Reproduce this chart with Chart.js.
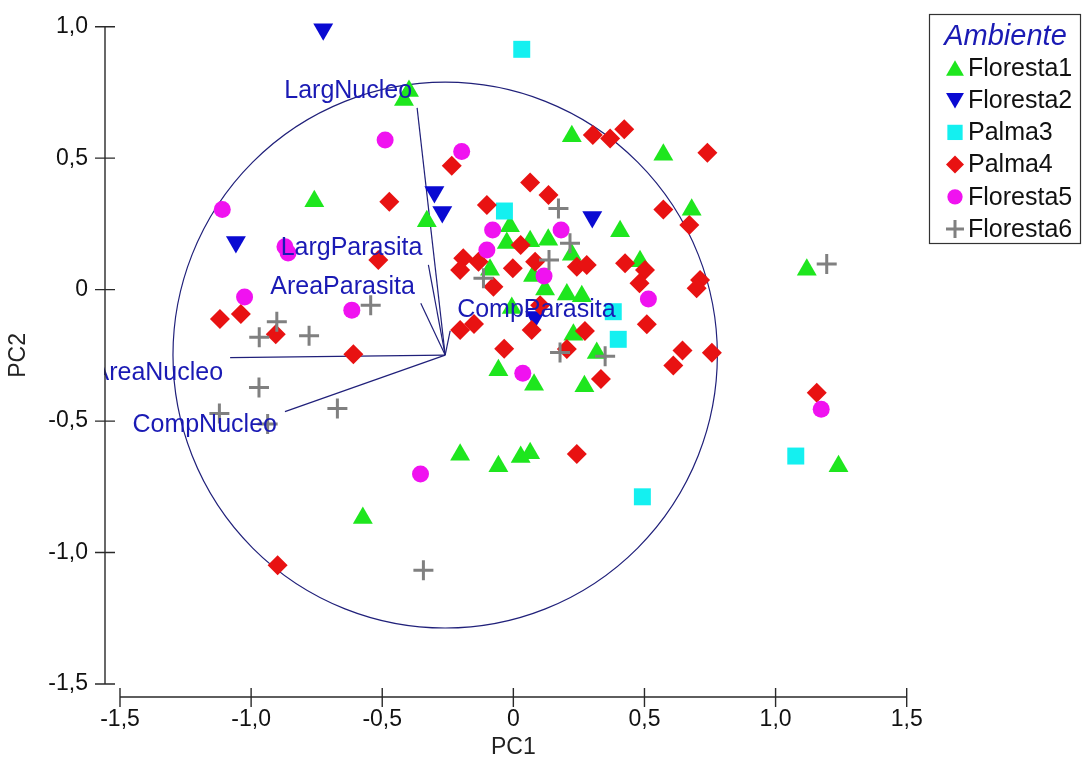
<!DOCTYPE html>
<html><head><meta charset="utf-8">
<script src="https://cdn.jsdelivr.net/npm/chart.js@4.4.1/dist/chart.umd.min.js"></script>
<style>html,body{margin:0;padding:0;background:#fff;}#wrap{width:1082px;height:763px;}</style>
</head><body><div id="wrap"><canvas id="c" width="1082" height="763"></canvas></div>
<script>
// ---------- DATA ----------
const seriesNames = ['Floresta1','Floresta2','Palma3','Palma4','Floresta5','Floresta6'];
const legendTitle = 'Ambiente';

const floresta1X = [-0.398,-0.417,-0.759,-0.330,0.223,0.572,0.407,0.680,-0.013,-0.025,0.064,0.133,0.223,0.075,-0.089,0.483,0.204,0.261,0.121,-0.006,0.229,0.318,0.271,-0.057,0.079,1.119,1.240,-0.203,-0.057,0.028,0.064,-0.574];
const floresta1Y = [0.755,0.721,0.336,0.260,0.583,0.513,0.222,0.304,0.241,0.177,0.184,0.190,0.133,0.052,0.076,0.108,-0.019,-0.025,0.000,-0.070,-0.172,-0.241,-0.368,-0.307,-0.362,0.076,-0.672,-0.628,-0.672,-0.637,-0.622,-0.869];

const floresta2X = [-0.725,-0.301,-0.271,-1.058,0.301,0.083];
const floresta2Y = [0.990,0.371,0.295,0.181,0.276,-0.104];

const palma3X = [0.032,-0.034,0.381,0.400,1.077,0.492];
const palma3Y = [0.914,0.299,-0.084,-0.189,-0.633,-0.788];

const palma4X = [-0.235,-0.473,-0.101,-0.515,-0.191,-0.203,-0.133,-0.076,0.303,0.369,0.423,0.740,0.064,0.134,0.572,0.671,0.028,-0.002,0.083,0.242,0.280,0.426,0.502,0.481,0.712,0.699,-0.203,-0.150,0.070,0.102,0.273,0.509,-0.035,0.204,0.334,0.645,0.610,0.757,1.157,0.242,-1.119,-1.039,-0.906,-0.610,-0.899];
const palma4Y = [0.471,0.334,0.322,0.113,0.119,0.075,0.106,0.011,0.588,0.575,0.610,0.521,0.407,0.360,0.305,0.246,0.170,0.081,0.106,0.087,0.094,0.100,0.075,0.024,0.037,0.005,-0.154,-0.131,-0.154,-0.059,-0.157,-0.132,-0.225,-0.226,-0.340,-0.232,-0.289,-0.240,-0.392,-0.625,-0.112,-0.093,-0.170,-0.246,-1.048];

const floresta5X = [-0.489,-0.197,-1.110,-0.871,-0.859,-0.101,-0.079,0.182,0.117,0.515,-1.025,-0.616,0.036,1.174,-0.354];
const floresta5Y = [0.569,0.525,0.305,0.163,0.139,0.151,0.227,0.227,0.052,-0.036,-0.028,-0.078,-0.318,-0.455,-0.701];

const floresta6X = [0.172,0.216,0.136,-0.114,1.195,0.178,0.350,-0.902,-0.969,-0.779,-0.544,-0.970,-1.121,-0.671,-0.937,-0.343];
const floresta6Y = [0.309,0.176,0.113,0.043,0.097,-0.239,-0.253,-0.122,-0.181,-0.175,-0.059,-0.372,-0.471,-0.452,-0.511,-1.067];

const loadingNames = ['LargNucleo','LargParasita','AreaParasita','CompParasita','AreaNucleo','CompNucleo'];
const loadingX = [-0.367,-0.324,-0.353,-0.241,-1.080,-0.871];
const loadingY = [0.691,0.094,-0.052,-0.157,-0.259,-0.464];
const loadingOriginX = -0.260;
const loadingOriginY = -0.249;
const circleRadius = 1.038;

const xTickValues = [-1.5,-1,-0.5,0,0.5,1,1.5];
const xTickLabels = ['-1,5','-1,0','-0,5','0','0,5','1,0','1,5'];
const yTickValues = [-1.5,-1,-0.5,0,0.5,1];
const yTickLabels = ['-1,5','-1,0','-0,5','0','0,5','1,0'];
const xTitle = 'PC1';
const yTitle = 'PC2';

// ---------- STYLES ----------
const seriesX = [floresta1X,floresta2X,palma3X,palma4X,floresta5X,floresta6X];
const seriesY = [floresta1Y,floresta2Y,palma3Y,palma4Y,floresta5Y,floresta6Y];
const seriesStyle = [
  {pointStyle:'triangle', rotation:0,   radius:11.5, color:'#1ee61e', border:0},
  {pointStyle:'triangle', rotation:180, radius:11.5, color:'#0a0ad2', border:0},
  {pointStyle:'rect',     rotation:0,   radius:12,   color:'#14f0f0', border:0},
  {pointStyle:'rectRot',  rotation:0,   radius:10,   color:'#e81212', border:0},
  {pointStyle:'circle',   rotation:0,   radius:8.5,  color:'#f012f0', border:0},
  {pointStyle:'cross',    rotation:0,   radius:10,   color:'#808080', border:3}
];
const labelStyle = [
  {align:'right', dx:-5, dy:-17},
  {align:'right', dx:-6, dy:-17},
  {align:'right', dx:-6, dy:-16},
  {align:'left',  dx:7,  dy:-21},
  {align:'right', dx:-7, dy:15},
  {align:'right', dx:-8, dy:13}
];
const FONT = "'Liberation Sans', Arial, sans-serif";
const blueText = '#1a1ab4';
const lineCol = '#20207a';

const datasets = seriesNames.map((name,i)=>{
  const st = seriesStyle[i];
  return {
    label:name,
    data: seriesX[i].map((x,k)=>({x:x, y:seriesY[i][k]})),
    pointStyle: st.pointStyle,
    rotation: st.rotation,
    pointRadius: st.radius,
    pointHoverRadius: st.radius,
    backgroundColor: st.color,
    borderColor: st.color,
    borderWidth: st.border,
    pointBorderWidth: st.border,
    order: seriesNames.length - i,
    clip: false
  };
});

function marker(ctx, style, x, y, r){
  ctx.save();
  ctx.fillStyle = style.color; ctx.strokeStyle = style.color;
  ctx.beginPath();
  if (style.pointStyle==='triangle'){
    const s = style.rotation===180 ? -1 : 1;
    for (let k=0;k<3;k++){
      const a = (k*120)*Math.PI/180;
      const px = x + Math.sin(a)*r*s, py = y - Math.cos(a)*r*s;
      k===0?ctx.moveTo(px,py):ctx.lineTo(px,py);
    }
    ctx.closePath(); ctx.fill();
  } else if (style.pointStyle==='rect'){
    const h = r*Math.SQRT1_2; ctx.rect(x-h,y-h,2*h,2*h); ctx.fill();
  } else if (style.pointStyle==='rectRot'){
    ctx.moveTo(x,y-r); ctx.lineTo(x+r,y); ctx.lineTo(x,y+r); ctx.lineTo(x-r,y); ctx.closePath(); ctx.fill();
  } else if (style.pointStyle==='circle'){
    ctx.arc(x,y,r,0,Math.PI*2); ctx.fill();
  } else if (style.pointStyle==='cross'){
    ctx.lineWidth = 3; ctx.moveTo(x-r,y); ctx.lineTo(x+r,y); ctx.moveTo(x,y-r); ctx.lineTo(x,y+r); ctx.stroke();
  }
  ctx.restore();
}

const biplot = {
  id:'biplot',
  beforeDatasetsDraw(chart){
    const ctx = chart.ctx, xs = chart.scales.x, ys = chart.scales.y;
    const cx = xs.getPixelForValue(loadingOriginX), cy = ys.getPixelForValue(loadingOriginY);
    const rx = xs.getPixelForValue(loadingOriginX + circleRadius) - cx;
    const ry = cy - ys.getPixelForValue(loadingOriginY + circleRadius);
    ctx.save();
    ctx.strokeStyle = lineCol; ctx.lineWidth = 1.2;
    ctx.beginPath(); ctx.ellipse(cx,cy,rx,ry,0,0,Math.PI*2); ctx.stroke();
    loadingNames.forEach((n,i)=>{
      ctx.beginPath(); ctx.moveTo(cx,cy);
      ctx.lineTo(xs.getPixelForValue(loadingX[i]), ys.getPixelForValue(loadingY[i]));
      ctx.stroke();
    });
    ctx.restore();
  },
  afterDatasetsDraw(chart){
    const ctx = chart.ctx, xs = chart.scales.x, ys = chart.scales.y, ca = chart.chartArea;
    // loading labels
    ctx.save();
    ctx.beginPath(); ctx.rect(ca.left-16, 0, chart.width, chart.height); ctx.clip();
    ctx.font = '25px ' + FONT; ctx.fillStyle = blueText; ctx.textBaseline = 'middle';
    loadingNames.forEach((n,i)=>{
      const st = labelStyle[i];
      ctx.textAlign = st.align;
      ctx.fillText(n, xs.getPixelForValue(loadingX[i]) + st.dx, ys.getPixelForValue(loadingY[i]) + st.dy);
    });
    ctx.restore();
    // axes
    ctx.save();
    ctx.strokeStyle = '#2a2a2a'; ctx.lineWidth = 1.4;
    const ax = ca.left - 15;
    ctx.beginPath();
    ctx.moveTo(ax, ys.getPixelForValue(yTickValues[yTickValues.length-1]));
    ctx.lineTo(ax, ys.getPixelForValue(yTickValues[0]));
    yTickValues.forEach(v=>{ const p = ys.getPixelForValue(v); ctx.moveTo(ax-10,p); ctx.lineTo(ax+10,p); });
    const ay = ca.bottom + 13;
    ctx.moveTo(xs.getPixelForValue(xTickValues[0]), ay);
    ctx.lineTo(xs.getPixelForValue(xTickValues[xTickValues.length-1]), ay);
    xTickValues.forEach(v=>{ const p = xs.getPixelForValue(v); ctx.moveTo(p,ay-9); ctx.lineTo(p,ay+10); });
    ctx.stroke();
    ctx.restore();
    // legend
    ctx.save();
    const lx = 929, ly = 14, lw = 151, lh = 229;
    ctx.fillStyle = '#fff'; ctx.fillRect(lx,ly,lw,lh);
    ctx.strokeStyle = '#333'; ctx.lineWidth = 1.2; ctx.strokeRect(lx+0.5,ly+0.5,lw,lh);
    ctx.fillStyle = blueText; ctx.font = 'italic 29px ' + FONT; ctx.textAlign = 'center'; ctx.textBaseline = 'middle';
    ctx.fillText(legendTitle, lx + lw/2 + 1, 37);
    ctx.font = '25px ' + FONT; ctx.textAlign = 'left'; ctx.fillStyle = '#111';
    seriesNames.forEach((n,i)=>{
      const yy = 68 + i*32.2;
      const st = seriesStyle[i];
      let r = st.radius*0.9, my = yy;
      if (st.pointStyle==='triangle') my = yy + (st.rotation===180 ? -2 : 2.5);
      marker(ctx, st, 955, my, r);
      ctx.fillStyle = '#111';
      ctx.fillText(n, 968, yy + 1);
    });
    ctx.restore();
  }
};

new Chart(document.getElementById('c'), {
  type:'scatter',
  data:{datasets},
  options:{
    responsive:false, animation:false, devicePixelRatio:1,
    layout:{padding:{top:26.7, right:175.3, bottom:0, left:0}},
    plugins:{legend:{display:false}, tooltip:{enabled:false}},
    events:[],
    scales:{
      x:{
        type:'linear', min:-1.5, max:1.5,
        afterBuildTicks:(s)=>{ s.ticks = xTickValues.map(v=>({value:v})); },
        afterFit:(s)=>{ s.height = 79; },
        grid:{display:false, drawTicks:true, tickLength:22}, border:{display:false},
        ticks:{padding:0, color:'#111', autoSkip:false, maxRotation:0,
          font:{family:FONT, size:23},
          callback:(v)=>{ const k = xTickValues.indexOf(v); return k>=0 ? xTickLabels[k] : ''; }},
        title:{display:true, text:xTitle, color:'#222', font:{family:FONT, size:23}, padding:{top:0, bottom:2}}
      },
      y:{
        type:'linear', min:-1.5, max:1.0,
        afterBuildTicks:(s)=>{ s.ticks = yTickValues.map(v=>({value:v})); },
        afterFit:(s)=>{ s.width = 120; },
        grid:{display:false, drawTicks:true, tickLength:32}, border:{display:false},
        ticks:{padding:0, color:'#111', autoSkip:false,
          font:{family:FONT, size:23},
          callback:(v)=>{ const k = yTickValues.indexOf(v); return k>=0 ? yTickLabels[k] : ''; }},
        title:{display:true, text:yTitle, color:'#222', font:{family:FONT, size:23}, padding:{top:5, bottom:0}}
      }
    }
  },
  plugins:[biplot]
});
</script>
</body></html>
